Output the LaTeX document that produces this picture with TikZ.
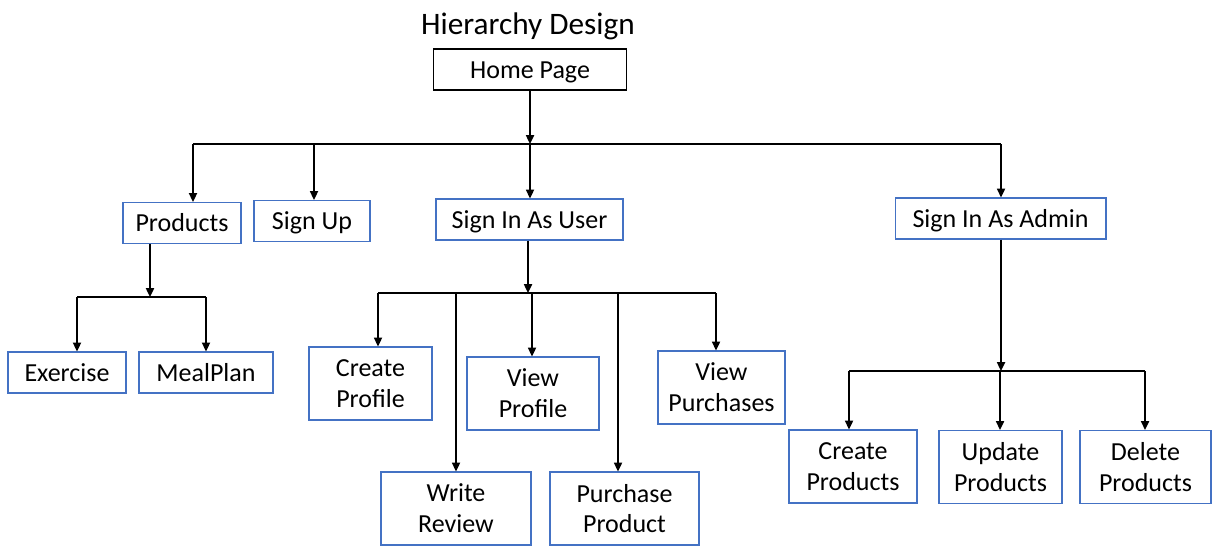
\documentclass[tikz,border=0pt]{standalone}
\usepackage{fontspec}
\setmainfont{Carlito}
\usetikzlibrary{arrows.meta}
\definecolor{boxblue}{HTML}{4472C4}

\begin{document}
\begin{tikzpicture}[x=0.02cm,y=-0.02cm,
            page/.style={draw=boxblue,line width=0.6pt,inner sep=0pt,align=center,font=\fontsize{14.8}{17.5}\selectfont},
            onebox/.style={page,minimum height=0.82cm,text height=13.5pt,text depth=3.5pt},
            twobox/.style={page,minimum height=1.46cm},
            link/.style={-{Triangle[length=5pt,width=4.5pt]},line width=1.1pt},
            bus/.style={line width=0.7pt}]
            \useasboundingbox (0,0) rectangle (1217,556);
            \node (title) at (528,26) {\fontsize{17.8}{21}\selectfont Hierarchy Design};
            \node[onebox,draw=black,minimum width=3.86cm] (home) at (530,69.5) {Home Page};
            % first level
            \node[onebox,minimum width=2.36cm] (products) at (182,223) {Products};
            \node[onebox,minimum width=2.32cm] (signup) at (312,221) {Sign Up};
            \node[onebox,minimum width=3.74cm] (user) at (529.5,219.5) {Sign In As User};
            \node[onebox,minimum width=4.22cm] (admin) at (1000.5,218.5) {Sign In As Admin};
            % products
            \node[onebox,minimum width=2.36cm] (exercise) at (67,372.5) {Exercise};
            \node[onebox,minimum width=2.68cm] (mealplan) at (206,372.5) {MealPlan};
            % user
            \node[twobox,minimum width=2.46cm] (createprofile) at (370.5,383.5) {Create\\Profile};
            \node[twobox,minimum width=2.64cm] (viewprofile) at (533,393.5) {View\\Profile};
            \node[twobox,minimum width=2.54cm] (viewpurchases) at (721.5,387.5) {View\\Purchases};
            \node[twobox,minimum width=3.0cm] (writereview) at (456,508.5) {Write\\Review};
            \node[twobox,minimum width=2.98cm] (purchaseproduct) at (624.5,508.5) {Purchase\\Product};
            % admin
            \node[twobox,minimum width=2.56cm] (createproducts) at (853,466.5) {Create\\Products};
            \node[twobox,minimum width=2.46cm] (updateproducts) at (1000.5,467) {Update\\Products};
            \node[twobox,minimum width=2.62cm] (deleteproducts) at (1145.5,467) {Delete\\Products};

            % bus below home page
            \coordinate (hb) at (530,144);
            \coordinate (hbL) at (193,144);
            \coordinate (hbS) at (314,144);
            \coordinate (hbR) at (1001,144);
            \draw[link] (hb |- home.south) -- (hb);
            \draw[bus] (hbL) -- (hbR);
            \draw[link] (hbL) -- (hbL |- products.north);
            \draw[link] (hbS) -- (hbS |- signup.north);
            \draw[link] (hb) -- (hb |- user.north);
            \draw[link] (hbR) -- (hbR |- admin.north);

            % bus below products
            \coordinate (pb) at (150,297);
            \coordinate (pbL) at (77,297);
            \coordinate (pbR) at (206,297);
            \draw[link] (products.south -| pb) -- (pb);
            \draw[bus] (pbL) -- (pbR);
            \draw[link] (pbL) -- (pbL |- exercise.north);
            \draw[link] (pbR) -- (pbR |- mealplan.north);

            % bus below sign in as user
            \coordinate (ub) at (528,293);
            \coordinate (ubA) at (378,293);
            \coordinate (ubB) at (456,293);
            \coordinate (ubC) at (532,293);
            \coordinate (ubD) at (618,293);
            \coordinate (ubE) at (716,293);
            \draw[link] (user.south -| ub) -- (ub);
            \draw[bus] (ubA) -- (ubE);
            \draw[link] (ubA) -- (ubA |- createprofile.north);
            \draw[link] (ubB) -- (ubB |- writereview.north);
            \draw[link] (ubC) -- (ubC |- viewprofile.north);
            \draw[link] (ubD) -- (ubD |- purchaseproduct.north);
            \draw[link] (ubE) -- (ubE |- viewpurchases.north);

            % bus below sign in as admin
            \coordinate (ab) at (1001,371);
            \coordinate (abL) at (849,371);
            \coordinate (abM) at (1000,371);
            \coordinate (abR) at (1145,371);
            \draw[link] (admin.south -| ab) -- (ab);
            \draw[bus] (abL) -- (abR);
            \draw[link] (abL) -- (abL |- createproducts.north);
            \draw[link] (abM) -- (abM |- updateproducts.north);
            \draw[link] (abR) -- (abR |- deleteproducts.north);
        \end{tikzpicture}
\end{document}
